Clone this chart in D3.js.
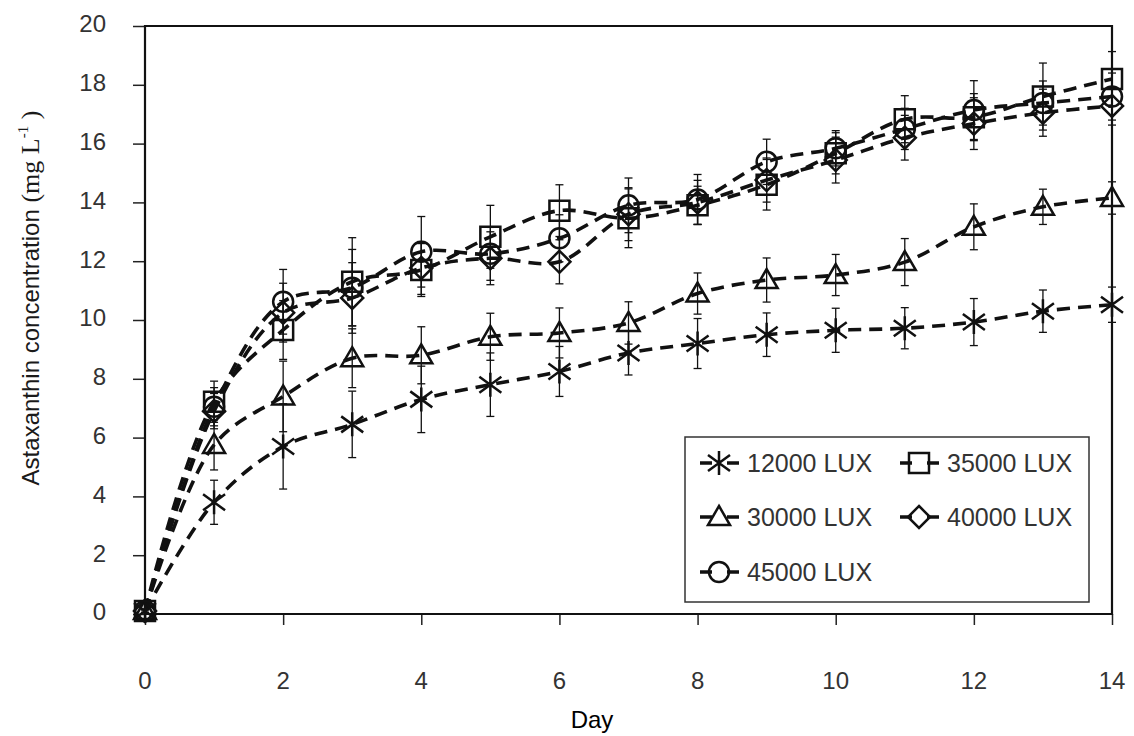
<!DOCTYPE html>
<html>
<head>
<meta charset="utf-8">
<script src="https://cdn.jsdelivr.net/npm/d3@7"></script>
<style>
  body { margin: 0; background: #fff; }
  svg { display: block; }
</style>
</head>
<body>
<script>
'use strict';

// days on the x axis
const days = [0, 1, 2, 3, 4, 5, 6, 7, 8, 9, 10, 11, 12, 13, 14];

// astaxanthin concentration (mg/L) for each light level, with error bars
const lux12000 = [0.1, 3.8, 5.7, 6.45, 7.3, 7.8, 8.25, 8.88, 9.2, 9.5, 9.65, 9.72, 9.93, 10.3, 10.52];
const err12000 = [0.05, 0.75, 1.45, 1.13, 1.13, 1.08, 0.85, 0.75, 0.85, 0.74, 0.75, 0.7, 0.8, 0.72, 0.6];

const lux30000 = [0.1, 5.75, 7.4, 8.7, 8.8, 9.43, 9.56, 9.9, 10.9, 11.36, 11.53, 11.97, 13.17, 13.85, 14.15];
const err30000 = [0.05, 0.85, 1.2, 1.0, 0.97, 0.8, 0.85, 0.72, 0.7, 0.75, 0.7, 0.8, 0.78, 0.6, 0.55];

const lux35000 = [0.1, 7.22, 9.66, 11.3, 11.7, 12.83, 13.72, 13.46, 13.9, 14.6, 15.67, 16.83, 16.9, 17.6, 18.2];
const err35000 = [0.05, 0.7, 1.0, 1.5, 0.9, 1.07, 0.88, 1.0, 0.65, 0.86, 0.7, 0.8, 0.8, 1.14, 0.93];

const lux40000 = [0.1, 6.9, 10.25, 10.75, 11.77, 12.1, 11.98, 13.6, 14.0, 14.76, 15.44, 16.2, 16.68, 17.05, 17.28];
const err40000 = [0.05, 0.6, 1.0, 1.2, 0.9, 0.9, 0.75, 0.9, 0.75, 0.75, 0.78, 0.76, 0.88, 0.8, 0.65];

const lux45000 = [0.1, 7.05, 10.62, 11.1, 12.32, 12.25, 12.78, 13.9, 14.1, 15.38, 15.84, 16.5, 17.14, 17.38, 17.6];
const err45000 = [0.05, 0.65, 1.1, 1.3, 1.2, 0.9, 0.8, 0.93, 0.85, 0.77, 0.6, 0.7, 1.0, 0.75, 0.8];

const seriesNames = ['12000 LUX', '30000 LUX', '35000 LUX', '40000 LUX', '45000 LUX'];
const seriesMarkers = ['star', 'triangle', 'square', 'diamond', 'circle'];

const xTicks = [0, 2, 4, 6, 8, 10, 12, 14];
const yTicks = [0, 2, 4, 6, 8, 10, 12, 14, 16, 18, 20];

(function () {
  const width = 1134;
  const height = 736;
  const plot = { left: 145, right: 1112, top: 26, bottom: 614 };
  const sansFont = '"Liberation Sans", Arial, sans-serif';
  const serifFont = '"Liberation Serif", "Times New Roman", serif';

  let svg = d3.select('body')
    .append('svg')
    .attr('width', width)
    .attr('height', height);

  let xScale = d3.scaleLinear().domain([0, 14]).range([plot.left, plot.right]);
  let yScale = d3.scaleLinear().domain([0, 20]).range([plot.bottom, plot.top]);

  // bundle the arrays into series objects
  let values = [lux12000, lux30000, lux35000, lux40000, lux45000];
  let errors = [err12000, err30000, err35000, err40000, err45000];
  let series = seriesNames.map((name, i) => ({
    name: name,
    marker: seriesMarkers[i],
    points: days.map((d, j) => ({ day: d, value: values[i][j], err: errors[i][j] }))
  }));

  // marker shapes, centred on 0,0
  function markerPath(type) {
    switch (type) {
      case 'star': return 'M-11,-8L11,8M-11,8L11,-8M0,-12L0,12';
      case 'triangle': return 'M0,-11L11,8L-11,8Z';
      case 'square': return 'M-10,-10L10,-10L10,10L-10,10Z';
      case 'diamond': return 'M0,-11L11,0L0,11L-11,0Z';
      default: return 'M-10,0A10,10 0 1,0 10,0A10,10 0 1,0 -10,0Z';
    }
  }

  // axes
  let xAxis = d3.axisBottom(xScale).tickValues(xTicks).tickSize(11).tickFormat('');
  svg.append('g')
    .attr('transform', `translate(0, ${plot.bottom})`)
    .call(xAxis)
    .call(g => g.select('.domain').remove())
    .call(g => g.selectAll('line').attr('stroke', '#222').attr('stroke-width', 1.5));

  let yAxis = d3.axisLeft(yScale).tickValues(yTicks).tickSize(12).tickFormat('');
  svg.append('g')
    .attr('transform', `translate(${plot.left}, 0)`)
    .call(yAxis)
    .call(g => g.select('.domain').remove())
    .call(g => g.selectAll('line').attr('stroke', '#222').attr('stroke-width', 1.5));

  // tick labels
  svg.append('g').selectAll('text')
    .data(xTicks)
    .enter()
    .append('text')
    .attr('x', d => xScale(d))
    .attr('y', 689)
    .attr('text-anchor', 'middle')
    .style('font-family', sansFont)
    .style('font-size', '24px')
    .attr('fill', '#333')
    .text(d => d);

  svg.append('g').selectAll('text')
    .data(yTicks)
    .enter()
    .append('text')
    .attr('x', 106)
    .attr('y', d => yScale(d) - 2)
    .attr('dy', '0.35em')
    .attr('text-anchor', 'end')
    .style('font-family', sansFont)
    .style('font-size', '24px')
    .attr('fill', '#333')
    .text(d => d);

  // plot frame
  svg.append('path')
    .attr('d', `M${plot.left},${plot.top}L${plot.right},${plot.top}L${plot.right},${plot.bottom}L${plot.left},${plot.bottom}Z`)
    .attr('fill', 'none')
    .attr('stroke', '#111')
    .attr('stroke-width', 2.2);

  // legend box (drawn before the data, like the original)
  let legend = { x: 685, y: 437, w: 404, h: 165 };
  svg.append('rect')
    .attr('x', legend.x)
    .attr('y', legend.y)
    .attr('width', legend.w)
    .attr('height', legend.h)
    .attr('fill', '#fff')
    .attr('stroke', '#333')
    .attr('stroke-width', 1.5);

  // error bars
  let errGroup = svg.append('g').attr('stroke', '#111').attr('stroke-width', 1.3);
  series.forEach(s => {
    s.points.forEach(p => {
      let cx = xScale(p.day);
      let y1 = yScale(p.value + p.err);
      let y2 = yScale(p.value - p.err);
      errGroup.append('line').attr('x1', cx).attr('x2', cx).attr('y1', y1).attr('y2', y2);
      errGroup.append('line').attr('x1', cx - 4).attr('x2', cx + 4).attr('y1', y1).attr('y2', y1);
      errGroup.append('line').attr('x1', cx - 4).attr('x2', cx + 4).attr('y1', y2).attr('y2', y2);
    });
  });

  // smoothed dashed lines
  let line = d3.line()
    .x(d => xScale(d.day))
    .y(d => yScale(d.value))
    .curve(d3.curveCatmullRom.alpha(0.5));

  svg.append('g').selectAll('path')
    .data(series)
    .enter()
    .append('path')
    .attr('d', d => line(d.points))
    .attr('fill', 'none')
    .attr('stroke', '#111')
    .attr('stroke-width', 3.6)
    .attr('stroke-dasharray', '13,8');

  // markers
  series.forEach(s => {
    svg.append('g').selectAll('path')
      .data(s.points)
      .enter()
      .append('path')
      .attr('transform', d => `translate(${xScale(d.day)}, ${yScale(d.value)})`)
      .attr('d', markerPath(s.marker))
      .attr('fill', 'none')
      .attr('stroke', '#111')
      .attr('stroke-width', 2.5);
  });

  // legend entries: two columns, three rows
  let legendPos = [
    { x: 719, y: 463 }, { x: 719, y: 517 }, { x: 919, y: 463 }, { x: 919, y: 517 }, { x: 719, y: 572 }
  ];
  series.forEach((s, i) => {
    let pos = legendPos[i];
    let g = svg.append('g').attr('transform', `translate(${pos.x}, ${pos.y})`);
    g.append('line')
      .attr('x1', -19).attr('x2', 20)
      .attr('stroke', '#111')
      .attr('stroke-width', 3.6)
      .attr('stroke-dasharray', '12,15');
    g.append('path')
      .attr('d', markerPath(s.marker))
      .attr('fill', 'none')
      .attr('stroke', '#111')
      .attr('stroke-width', 2.5);
    g.append('text')
      .attr('x', 28)
      .attr('dy', '0.36em')
      .style('font-family', sansFont)
      .style('font-size', '25px')
      .attr('fill', '#333')
      .text(s.name);
  });

  // axis titles
  svg.append('text')
    .attr('x', 592)
    .attr('y', 728)
    .attr('text-anchor', 'middle')
    .style('font-family', sansFont)
    .style('font-size', '24px')
    .attr('fill', '#000')
    .text('Day');

  let yTitle = svg.append('text')
    .attr('transform', 'translate(39, 298) rotate(-90)')
    .attr('text-anchor', 'middle')
    .attr('fill', '#1a1a1a')
    .style('font-family', sansFont)
    .style('font-size', '24px');
  yTitle.append('tspan').text('Astaxanthin concentration ');
  yTitle.append('tspan').style('font-family', serifFont).style('font-size', '26px').text('(mg L');
  yTitle.append('tspan').style('font-family', serifFont).style('font-size', '15px').attr('dy', -11).text('-1');
  yTitle.append('tspan').style('font-family', serifFont).style('font-size', '26px').attr('dy', 11).text(' )');
})();
</script>
</body>
</html>
